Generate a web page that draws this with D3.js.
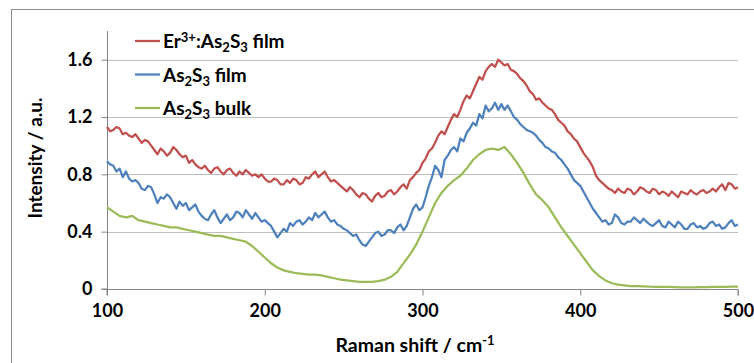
<!DOCTYPE html>
<html lang="en">
<head>
<meta charset="UTF-8">
<script src="https://cdnjs.cloudflare.com/ajax/libs/d3/7.8.5/d3.min.js"></script>
<style>
  body { margin: 0; background: #fff; }
  svg text { font-family: Lato, "Open Sans", sans-serif; font-weight: bold; fill: #000; }
</style>
</head>
<body>
<script>
// films sampled every 2 cm-1, bulk every 4 cm-1
const filmShift = d3.range(100, 501, 2);
const bulkShift = d3.range(100, 501, 4);

const erFilm = [
  1.13, 1.10, 1.11, 1.13, 1.12, 1.08, 1.09, 1.07, 1.06, 1.08,
  1.05, 1.02, 1.04, 1.03, 1.00, 0.97, 0.94, 0.98, 0.96, 0.93,
  0.95, 0.99, 0.97, 0.94, 0.92, 0.93, 0.88, 0.90, 0.87, 0.85,
  0.84, 0.86, 0.83, 0.81, 0.84, 0.85, 0.82, 0.80, 0.83, 0.84,
  0.81, 0.79, 0.82, 0.80, 0.83, 0.81, 0.79, 0.80, 0.78, 0.80,
  0.77, 0.75, 0.75, 0.77, 0.76, 0.73, 0.73, 0.76, 0.74, 0.77,
  0.76, 0.73, 0.74, 0.78, 0.77, 0.80, 0.82, 0.78, 0.80, 0.82,
  0.78, 0.75, 0.76, 0.74, 0.72, 0.70, 0.68, 0.71, 0.69, 0.66,
  0.64, 0.67, 0.66, 0.63, 0.61, 0.65, 0.67, 0.64, 0.65, 0.68,
  0.69, 0.66, 0.68, 0.71, 0.73, 0.70, 0.76, 0.78, 0.81, 0.83,
  0.88, 0.91, 0.96, 0.98, 1.02, 1.07, 1.10, 1.08, 1.13, 1.18,
  1.22, 1.20, 1.25, 1.31, 1.35, 1.33, 1.38, 1.43, 1.48, 1.46,
  1.52, 1.55, 1.57, 1.55, 1.60, 1.58, 1.56, 1.57, 1.53, 1.52,
  1.50, 1.47, 1.45, 1.42, 1.38, 1.36, 1.32, 1.33, 1.30, 1.28,
  1.26, 1.25, 1.22, 1.18, 1.16, 1.14, 1.10, 1.08, 1.05, 1.03,
  0.99, 0.95, 0.92, 0.89, 0.85, 0.79, 0.76, 0.74, 0.72, 0.70,
  0.69, 0.67, 0.70, 0.68, 0.67, 0.70, 0.69, 0.66, 0.68, 0.71,
  0.70, 0.68, 0.67, 0.70, 0.69, 0.66, 0.68, 0.67, 0.65, 0.68,
  0.66, 0.64, 0.68, 0.67, 0.66, 0.69, 0.67, 0.66, 0.68, 0.69,
  0.67, 0.68, 0.70, 0.68, 0.71, 0.73, 0.69, 0.74, 0.73, 0.70,
  0.71
];

const film = [
  0.89, 0.87, 0.86, 0.82, 0.84, 0.78, 0.82, 0.77, 0.75, 0.76,
  0.74, 0.70, 0.69, 0.72, 0.71, 0.66, 0.60, 0.64, 0.63, 0.66,
  0.64, 0.60, 0.56, 0.61, 0.58, 0.60, 0.55, 0.57, 0.59, 0.54,
  0.51, 0.49, 0.48, 0.52, 0.55, 0.50, 0.46, 0.49, 0.52, 0.48,
  0.50, 0.54, 0.53, 0.50, 0.55, 0.52, 0.49, 0.53, 0.50, 0.47,
  0.48, 0.46, 0.44, 0.40, 0.36, 0.39, 0.42, 0.40, 0.46, 0.44,
  0.47, 0.48, 0.45, 0.47, 0.50, 0.48, 0.53, 0.50, 0.52, 0.54,
  0.50, 0.47, 0.48, 0.45, 0.44, 0.42, 0.41, 0.39, 0.37, 0.38,
  0.34, 0.31, 0.30, 0.33, 0.36, 0.39, 0.40, 0.37, 0.38, 0.41,
  0.41, 0.39, 0.43, 0.45, 0.41, 0.44, 0.50, 0.56, 0.59, 0.55,
  0.57, 0.64, 0.72, 0.78, 0.86, 0.83, 0.78, 0.90, 0.93, 0.97,
  0.99, 0.96, 1.05, 1.03, 1.09, 1.12, 1.16, 1.14, 1.22, 1.19,
  1.28, 1.24, 1.26, 1.30, 1.25, 1.29, 1.25, 1.28, 1.24, 1.20,
  1.18, 1.15, 1.13, 1.11, 1.10, 1.09, 1.07, 1.04, 1.02, 0.99,
  0.98, 0.96, 0.95, 0.92, 0.90, 0.87, 0.84, 0.80, 0.76, 0.74,
  0.72, 0.68, 0.64, 0.60, 0.56, 0.53, 0.50, 0.47, 0.48, 0.45,
  0.46, 0.52, 0.50, 0.46, 0.45, 0.47, 0.47, 0.50, 0.48, 0.46,
  0.49, 0.47, 0.45, 0.44, 0.46, 0.48, 0.44, 0.43, 0.47, 0.45,
  0.43, 0.47, 0.45, 0.42, 0.42, 0.45, 0.46, 0.43, 0.44, 0.42,
  0.43, 0.46, 0.47, 0.44, 0.45, 0.42, 0.43, 0.46, 0.48, 0.44,
  0.45
];

const bulk = [
  0.57, 0.54, 0.51, 0.50, 0.51, 0.48, 0.47, 0.46, 0.45, 0.44,
  0.43, 0.43, 0.42, 0.41, 0.40, 0.39, 0.38, 0.37, 0.37, 0.36,
  0.35, 0.34, 0.33, 0.30, 0.26, 0.22, 0.18, 0.15, 0.13, 0.12,
  0.11, 0.105, 0.10, 0.10, 0.095, 0.085, 0.075, 0.065, 0.06, 0.055,
  0.05, 0.05, 0.05, 0.055, 0.065, 0.085, 0.12, 0.18, 0.24, 0.31,
  0.40, 0.50, 0.60, 0.67, 0.72, 0.76, 0.79, 0.84, 0.90, 0.94,
  0.97, 0.98, 0.97, 0.99, 0.94, 0.88, 0.81, 0.73, 0.66, 0.62,
  0.57, 0.50, 0.43, 0.37, 0.31, 0.25, 0.19, 0.13, 0.09, 0.06,
  0.04, 0.03, 0.025, 0.02, 0.02, 0.018, 0.016, 0.015, 0.015, 0.014,
  0.013, 0.012, 0.012, 0.012, 0.013, 0.013, 0.014, 0.015, 0.015, 0.016,
  0.016
];

const xTicks = [100, 200, 300, 400, 500];
const yTicks = [0, 0.4, 0.8, 1.2, 1.6];
const colors = ["#C0504D", "#4F81BD", "#9BBB59"];
// legend labels as [text, kind] pieces
const labels = [
  [["Er", ""], ["3+", "sup"], [":As", ""], ["2", "sub"], ["S", ""], ["3", "sub"], [" film", ""]],
  [["As", ""], ["2", "sub"], ["S", ""], ["3", "sub"], [" film", ""]],
  [["As", ""], ["2", "sub"], ["S", ""], ["3", "sub"], [" bulk", ""]]
];

const W = 754, H = 363;
const margin = { top: 31, right: 16, bottom: 74, left: 107 };

const svg = d3.select("body").append("svg")
  .attr("width", W)
  .attr("height", H);

// outer chart frame
svg.append("rect")
  .attr("x", 11.5).attr("y", 9.5)
  .attr("width", 800).attr("height", 400)
  .attr("fill", "none")
  .attr("stroke", "#8c8c8c");

const x = d3.scaleLinear().domain([100, 500]).range([margin.left, W - margin.right]);
const y = d3.scaleLinear().domain([0, 1.8]).range([H - margin.bottom, margin.top]);

// gridlines
svg.append("g")
  .selectAll("line")
  .data(yTicks.slice(1))
  .join("line")
  .attr("x1", x(100)).attr("x2", x(500))
  .attr("y1", d => Math.round(y(d)) + 0.5)
  .attr("y2", d => Math.round(y(d)) + 0.5)
  .attr("stroke", "#bfbfbf");

const xAxis = svg.append("g")
  .attr("transform", "translate(0," + (Math.round(y(0)) + 0.5) + ")")
  .call(d3.axisBottom(x).tickValues(xTicks).tickSize(6).tickPadding(9).tickFormat(d3.format("d")));

const yAxis = svg.append("g")
  .attr("transform", "translate(" + (Math.round(x(100)) + 0.5) + ",0)")
  .call(d3.axisLeft(y).tickValues(yTicks).tickSize(6).tickPadding(9).tickFormat(d => d === 0 ? "0" : d3.format(".1f")(d)));

[xAxis, yAxis].forEach(g => {
  g.select(".domain").attr("stroke", "#868686");
  g.selectAll(".tick line").attr("stroke", "#868686");
  g.selectAll(".tick text").attr("font-size", 18).attr("font-family", null);
});
xAxis.select(".domain").attr("d", "M" + x(100) + ",6V0H" + x(500) + "V6");
yAxis.select(".domain").attr("d", "M-6," + y(0) + "H0V" + y(1.8));

const line = d3.line()
  .x(d => x(d[0]))
  .y(d => y(d[1]));

[[filmShift, erFilm], [filmShift, film], [bulkShift, bulk]].forEach(([xs, s], k) => {
  svg.append("path")
    .datum(d3.zip(xs, s))
    .attr("d", line)
    .attr("fill", "none")
    .attr("stroke", colors[k])
    .attr("stroke-width", 2.25)
    .attr("stroke-linejoin", "round");
});

// legend
const legend = svg.append("g");
labels.forEach((parts, k) => {
  const ly = 41 + k * 33.5;
  legend.append("line")
    .attr("x1", 135).attr("x2", 160)
    .attr("y1", ly).attr("y2", ly)
    .attr("stroke", colors[k])
    .attr("stroke-width", 2.25);
  const t = legend.append("text")
    .attr("x", 163).attr("y", ly + 7)
    .attr("font-size", 19);
  let shiftNow = 0;
  parts.forEach(([txt, kind]) => {
    const target = kind === "sup" ? -6 : kind === "sub" ? 4 : 0;
    t.append("tspan")
      .attr("dy", target - shiftNow)
      .attr("font-size", kind ? 13 : 19)
      .text(txt);
    shiftNow = target;
  });
});

// axis titles
svg.append("text")
  .attr("transform", "translate(42,158) rotate(-90)")
  .attr("text-anchor", "middle")
  .attr("font-size", 19)
  .text("Intensity / a.u.");

const xt = svg.append("text")
  .attr("x", 415).attr("y", 352)
  .attr("text-anchor", "middle")
  .attr("font-size", 19.5);
xt.append("tspan").text("Raman shift / cm");
xt.append("tspan").attr("dy", -7).attr("font-size", 13).text("-1");
</script>
</body>
</html>
